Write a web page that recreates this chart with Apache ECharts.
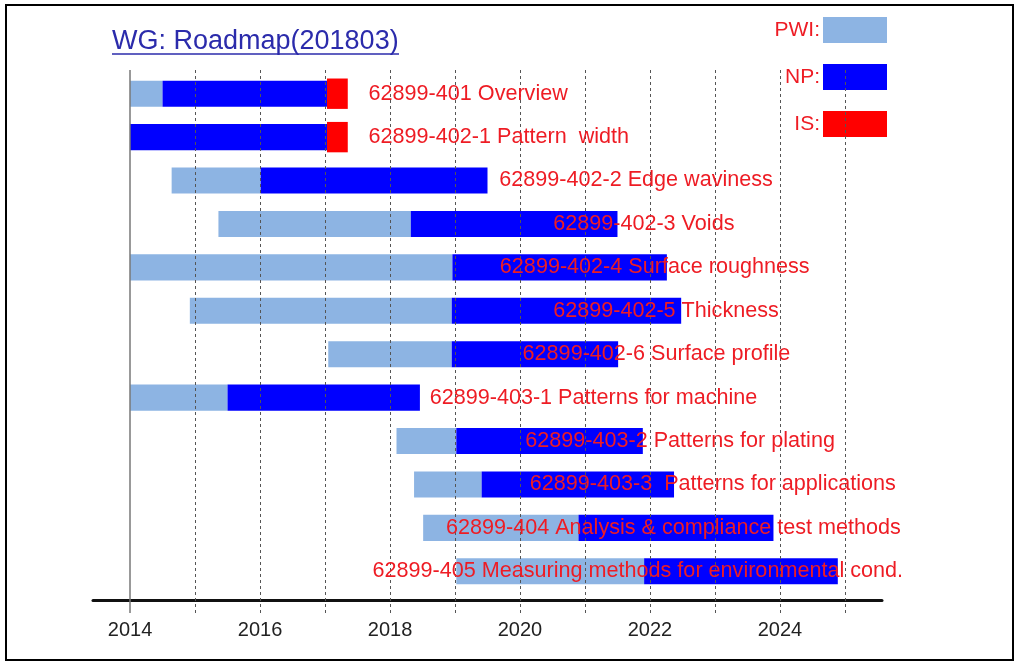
<!DOCTYPE html>
<html>
<head>
<meta charset="utf-8">
<script src="https://cdn.jsdelivr.net/npm/echarts@6/dist/echarts.min.js"></script>
<style>
  html, body { margin: 0; padding: 0; background: #ffffff; }
  #chart { width: 1017px; height: 665px; }
</style>
</head>
<body>
<div id="chart"></div>
<script>
// ---------- data ----------
const labels = [
  '62899-401 Overview',
  '62899-402-1 Pattern  width',
  '62899-402-2 Edge waviness',
  '62899-402-3 Voids',
  '62899-402-4 Surface roughness',
  '62899-402-5 Thickness',
  '62899-402-6 Surface profile',
  '62899-403-1 Patterns for machine',
  '62899-403-2 Patterns for plating',
  '62899-403-3  Patterns for applications',
  '62899-404 Analysis & compliance test methods',
  '62899-405 Measuring methods for environmental cond.'
];
// stage boundaries (decimal years)
const pwiStart = [2014.0, 2014.0, 2014.64, 2015.36, 2014.0, 2014.92, 2017.05, 2014.0, 2018.10, 2018.37, 2018.51, 2019.02];
const npStart  = [2014.5, 2014.0, 2016.01, 2018.32, 2018.96, 2018.95, 2018.95, 2015.50, 2019.02, 2019.41, 2020.90, 2021.91];
const npEnd    = [2017.03, 2017.03, 2019.50, 2021.50, 2022.26, 2022.48, 2021.51, 2018.46, 2021.89, 2022.37, 2023.90, 2024.89];
const isEnd    = [2017.35, 2017.35, null, null, null, null, null, null, null, null, null, null];
// where each label text begins (decimal years)
const labelAt  = [2017.67, 2017.67, 2019.68, 2020.51, 2019.69, 2020.51, 2020.04, 2018.61, 2020.08, 2020.15, 2018.86, 2017.73];
const gridYears = [2015, 2016, 2017, 2018, 2019, 2020, 2021, 2022, 2023, 2024, 2025];
const tickLabels = [2014, 2016, 2018, 2020, 2022, 2024];
const legendNames = ['PWI', 'NP', 'IS'];
const titleText = 'WG: Roadmap(201803)';

// ---------- styles ----------
const C_PWI = '#8db4e3';
const C_NP = '#0000ff';
const C_IS = '#ff0000';
const C_TEXT = '#ee1c24';
const FONT = '"Liberation Sans", Arial, sans-serif';
const XMIN = 2013.43, XMAX = 2025.57;

const rowIdx = labels.map((_, i) => i);

function segRender(heightRatio) {
  return function (params, api) {
    const a = api.coord([api.value(1), api.value(0)]);
    const b = api.coord([api.value(2), api.value(0)]);
    const h = api.size([0, 1])[1] * heightRatio;
    return {
      type: 'rect',
      shape: { x: a[0], y: a[1] - h / 2, width: b[0] - a[0], height: h },
      style: api.style()
    };
  };
}

const chart = echarts.init(document.getElementById('chart'), null, { renderer: 'canvas' });
chart.setOption({
  animation: false,
  backgroundColor: '#ffffff',
  title: {
    text: titleText,
    left: 112, top: 28, padding: 0,
    textStyle: { color: '#2b2bab', fontSize: 27, fontWeight: 'normal', fontFamily: FONT }
  },
  graphic: [
    { type: 'line', shape: { x1: 112, y1: 54, x2: 399, y2: 54 }, style: { stroke: '#2b2bab', lineWidth: 1.5 } },
    { type: 'rect', shape: { x: 6, y: 5, width: 1007, height: 655 }, style: { fill: 'none', stroke: '#000', lineWidth: 2 }, z: 100 }
  ],
  legend: {
    data: legendNames,
    orient: 'vertical',
    right: 130, top: 17, padding: 0,
    align: 'right',
    icon: 'rect',
    itemWidth: 64, itemHeight: 26, itemGap: 21,
    formatter: '{name}:',
    textStyle: { color: C_TEXT, fontSize: 21, fontFamily: FONT, padding: [0, -2, 0, 0] },
    selectedMode: false
  },
  grid: [
    { left: 93, right: 135, top: 72, height: 521 },
    { left: 93, right: 135, top: 70, height: 543 }
  ],
  xAxis: [
    {
      gridIndex: 0, type: 'value', min: XMIN, max: XMAX, offset: 7,
      axisLine: { show: true, lineStyle: { color: '#111', width: 3 } },
      axisTick: { show: false },
      splitLine: { show: false },
      axisLabel: {
        margin: 20, color: '#222', fontSize: 20, fontFamily: FONT,
        showMinLabel: false, showMaxLabel: false,
        formatter: v => (tickLabels.indexOf(Math.round(v * 1000) / 1000) >= 0 ? String(Math.round(v)) : '')
      }
    },
    { gridIndex: 1, type: 'value', min: XMIN, max: XMAX, show: false }
  ],
  yAxis: [
    { gridIndex: 0, type: 'category', data: rowIdx, inverse: true, show: false },
    { gridIndex: 1, type: 'value', min: 0, max: 1, show: false }
  ],
  series: [
    {
      type: 'line', xAxisIndex: 1, yAxisIndex: 1, data: [], z: 1, silent: true,
      markLine: {
        symbol: 'none', silent: true, label: { show: false },
        lineStyle: { color: '#555', type: [3, 3], width: 1 },
        data: [{ xAxis: 2014, lineStyle: { color: '#777', type: 'solid', width: 1.5 } }]
          .concat(gridYears.map(y => ({ xAxis: y })))
      }
    },
    {
      name: 'PWI', type: 'custom', xAxisIndex: 0, yAxisIndex: 0, z: 3,
      itemStyle: { color: C_PWI },
      encode: { x: [1, 2], y: 0 },
      renderItem: segRender(0.6),
      data: rowIdx.map(i => [i, pwiStart[i], npStart[i]])
    },
    {
      name: 'NP', type: 'custom', xAxisIndex: 0, yAxisIndex: 0, z: 4,
      itemStyle: { color: C_NP },
      encode: { x: [1, 2], y: 0 },
      renderItem: segRender(0.6),
      data: rowIdx.map(i => [i, npStart[i], npEnd[i]])
    },
    {
      name: 'IS', type: 'custom', xAxisIndex: 0, yAxisIndex: 0, z: 5,
      itemStyle: { color: C_IS },
      encode: { x: [1, 2], y: 0 },
      renderItem: segRender(0.7),
      data: rowIdx.filter(i => isEnd[i] != null).map(i => [i, npEnd[i], isEnd[i]])
    },
    {
      name: 'labels', type: 'custom', xAxisIndex: 0, yAxisIndex: 0, z: 10, silent: true,
      encode: { x: 1, y: 0 },
      renderItem: function (params, api) {
        const p = api.coord([api.value(1), api.value(0)]);
        return {
          type: 'text', x: p[0], y: p[1],
          style: {
            text: labels[api.value(0)], fill: C_TEXT,
            font: '21.6px ' + FONT, align: 'left', verticalAlign: 'middle'
          }
        };
      },
      data: rowIdx.map(i => [i, labelAt[i]])
    }
  ]
});
</script>
</body>
</html>
